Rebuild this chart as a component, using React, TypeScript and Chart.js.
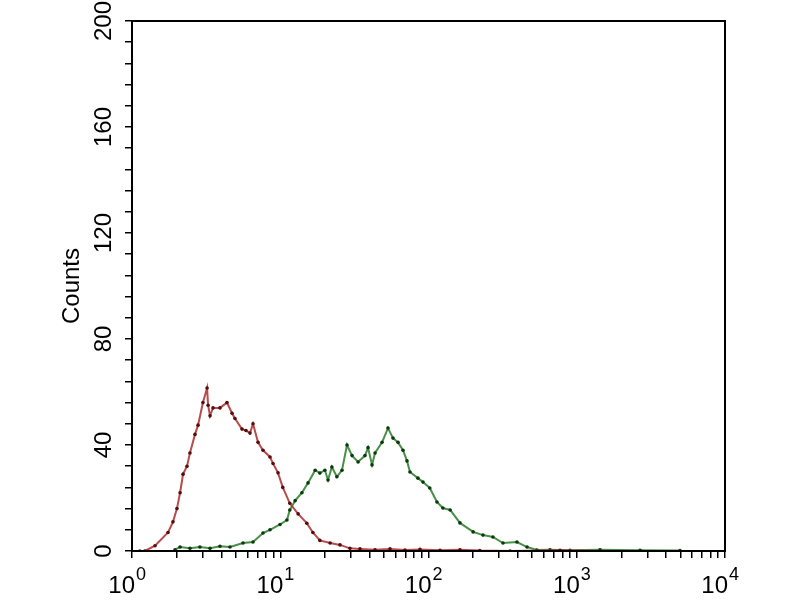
import React, { useEffect, useRef } from 'react';
import { Chart, registerables } from 'chart.js';

Chart.register(...registerables);

// ---- data ----
const redChannel = [1.13, 1.22, 1.43, 1.75, 1.89, 2.01, 2.11, 2.21, 2.35, 2.46, 2.66, 2.79, 3.01, 3.21, 3.26, 3.36, 3.52, 3.92, 4.37, 4.73, 4.95, 5.52, 5.87, 6.25, 6.55, 7.08, 7.65, 8.53, 8.94, 9.66, 10.4, 11.6, 13.2, 15.1, 16.6, 18.5, 21.7, 25.3, 29.5, 34.5, 43.6, 55.0, 69.4, 87.6, 119.6, 163, 222, 355, 771, 1435];
const redCounts = [0, 0, 2, 7, 11, 16, 22, 29, 32, 37, 44, 47.5, 56, 61.5, 55, 51, 54, 54, 56, 52, 50, 46, 45.5, 44.5, 48, 41, 38, 35.5, 33, 29.5, 24, 18, 14, 10.5, 7, 4, 3, 2.3, 1, 0.8, 0.5, 0.8, 0.4, 0.6, 0.3, 0.5, 0.2, 0, 0.3, 0];

const greenChannel = [1.95, 2.11, 2.46, 2.87, 3.36, 3.92, 4.58, 5.61, 6.55, 7.65, 8.53, 9.96, 11.1, 11.6, 12.6, 14.0, 15.4, 17.2, 18.5, 20.0, 21.0, 22.3, 24.1, 26.1, 28.2, 30.5, 33.5, 37.3, 39.1, 41.6, 43.6, 48.6, 53.3, 57.6, 62.3, 67.3, 71.6, 75.0, 84.9, 91.8, 102, 114, 125, 140, 163, 200, 233, 272, 318, 395, 462, 539, 660, 900, 1435, 2672, 4970];
const greenCounts = [0.5, 1.5, 1, 1.5, 1, 1.8, 1.5, 3, 3.4, 6.8, 8, 10, 11.7, 15.5, 19, 22, 25.7, 30.5, 29.4, 30.5, 26.8, 31.7, 28, 30.5, 40, 36, 33.6, 36, 39, 32.5, 37, 41, 46.4, 42.6, 41, 38, 34, 29.8, 27.5, 26, 23.8, 18.5, 16.2, 15.5, 10.6, 7.2, 6, 5.3, 3, 3.4, 1.5, 0.4, 0.5, 0.3, 0.5, 0.3, 0.2];

const xTickValues = [1, 2, 3, 4, 5, 6, 7, 8, 9, 10, 20, 30, 40, 50, 60, 70, 80, 90, 100, 200, 300, 400, 500, 600, 700, 800, 900, 1000, 2000, 3000, 4000, 5000, 6000, 7000, 8000, 9000, 10000];
const xMajorTicks = [1, 10, 100, 1000, 10000];
const xTickBase = '10';
const xTickExponents = ['0', '1', '2', '3', '4'];
const yTickLabels = [0, 40, 80, 120, 160, 200];
const yAxisTitle = 'Counts';

const FONT = "'Liberation Sans', Arial, sans-serif";

export default function App() {
  const ref = useRef<HTMLCanvasElement>(null);

  useEffect(() => {
    if (!ref.current) return;

    const frame = {
      id: 'frame',
      afterDatasetsDraw(chart: any) {
        const { ctx, chartArea: a } = chart;
        ctx.save();
        ctx.strokeStyle = '#000';
        ctx.lineWidth = 2;
        ctx.strokeRect(a.left, a.top, a.right - a.left, a.bottom - a.top);
        ctx.restore();
      },
    };

    const xLabels = {
      id: 'xLabels',
      afterDraw(chart: any) {
        const { ctx, chartArea: a } = chart;
        const sx = chart.scales.x;
        ctx.save();
        ctx.fillStyle = '#000';
        ctx.textBaseline = 'alphabetic';
        xMajorTicks.forEach((v, i) => {
          const px = sx.getPixelForValue(v);
          ctx.font = `24px ${FONT}`;
          ctx.textAlign = 'right';
          ctx.fillText(xTickBase, px + 3, a.bottom + 42);
          ctx.font = `18px ${FONT}`;
          ctx.textAlign = 'left';
          ctx.fillText(xTickExponents[i], px + 4, a.bottom + 29);
        });
        ctx.restore();
      },
    };

    const chart = new Chart(ref.current, {
      type: 'line',
      data: {
        datasets: [
          {
            label: 'control',
            data: redChannel.map((x, i) => ({ x, y: redCounts[i] })),
            borderColor: 'rgba(170,45,45,0.85)',
            borderWidth: 2,
            pointRadius: 1.8,
            pointBackgroundColor: '#560c0c',
            pointBorderWidth: 0,
            tension: 0,
          },
          {
            label: 'sample',
            data: greenChannel.map((x, i) => ({ x, y: greenCounts[i] })),
            borderColor: 'rgba(40,125,40,0.85)',
            borderWidth: 2,
            pointRadius: 1.8,
            pointBackgroundColor: '#0b380d',
            pointBorderWidth: 0,
            tension: 0,
          },
        ],
      },
      options: {
        responsive: false,
        animation: false,
        events: [],
        layout: { padding: { left: 56, top: 21, right: 75, bottom: 0 } },
        plugins: { legend: { display: false }, tooltip: { enabled: false } },
        scales: {
          x: {
            type: 'logarithmic',
            min: 1,
            max: 10000,
            afterBuildTicks: (scale: any) => {
              scale.ticks = xTickValues.map((v) => ({ value: v }));
            },
            afterFit: (scale: any) => {
              scale.height = 49;
              scale.paddingLeft = 0;
              scale.paddingRight = 0;
            },
            ticks: {
              autoSkip: false,
              maxRotation: 0,
              minRotation: 0,
              callback: () => '',
            },
            grid: {
              drawOnChartArea: false,
              drawTicks: true,
              tickLength: 7,
              tickColor: '#000',
              lineWidth: 1.5,
            },
            border: { display: true, color: '#000', width: 2 },
          },
          y: {
            type: 'linear',
            min: 0,
            max: 200,
            afterFit: (scale: any) => {
              scale.width = 76;
              scale.paddingTop = 0;
              scale.paddingBottom = 0;
            },
            ticks: {
              stepSize: 8,
              autoSkip: false,
              minRotation: 90,
              maxRotation: 90,
              crossAlign: 'center',
              padding: 1,
              color: '#000',
              font: { family: FONT, size: 24 },
              callback: (v: any) => (yTickLabels.includes(Number(v)) ? String(v) : ''),
            },
            grid: {
              drawOnChartArea: false,
              drawTicks: true,
              tickLength: 7,
              tickColor: '#000',
              lineWidth: 1.5,
            },
            border: { display: true, color: '#000', width: 2 },
            title: {
              display: true,
              text: yAxisTitle,
              color: '#000',
              font: { family: FONT, size: 24 },
              padding: { top: 2, bottom: 0 },
            },
          },
        },
      },
      plugins: [frame, xLabels],
    });

    return () => chart.destroy();
  }, []);

  return (
    <div style={{ position: 'fixed', left: 0, top: 0, width: 800, height: 600, background: '#fff' }}>
      <canvas ref={ref} width={800} height={600} style={{ display: 'block' }} />
    </div>
  );
}
